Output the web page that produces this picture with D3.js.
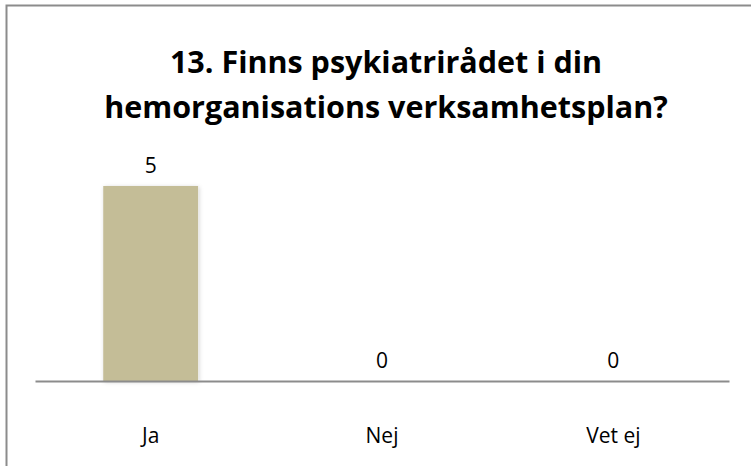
<!DOCTYPE html>
<html>
<head>
<meta charset="utf-8">
<script src="https://cdn.jsdelivr.net/npm/d3@7"></script>
<style>
	body { margin: 0; background: #fff; }
	text { font-family: "Open Sans", "Noto Sans", sans-serif; fill: #000; }
</style>
</head>
<body>
<div id="chart"></div>
<script>
var titleLines = ["13. Finns psykiatrirådet i din", "hemorganisations verksamhetsplan?"];
var categories = ["Ja", "Nej", "Vet ej"];
var values = [5, 0, 0];

var width = 751;
var height = 466;
var plot = { left: 35, right: 729, top: 186, bottom: 381 };

var svg = d3.select("#chart").append("svg")
	.attr("width", width)
	.attr("height", height);

// chart frame (right and bottom edges fall outside the picture)
svg.append("rect")
	.attr("x", 6.5).attr("y", 5.5)
	.attr("width", 760).attr("height", 480)
	.attr("fill", "none")
	.attr("stroke", "#8c8c8c")
	.attr("stroke-width", 2);

var defs = svg.append("defs");
var shadow = defs.append("filter").attr("id", "shadow")
	.attr("x", "-20%").attr("y", "-20%").attr("width", "140%").attr("height", "140%");
shadow.append("feDropShadow")
	.attr("dx", 1).attr("dy", 1).attr("stdDeviation", 2)
	.attr("flood-color", "#000").attr("flood-opacity", 0.18);

var x = d3.scaleBand()
	.domain(categories)
	.range([plot.left, plot.right])
	.paddingInner(0.59)
	.paddingOuter(0.295);

var y = d3.scaleLinear()
	.domain([0, 5])
	.range([plot.bottom, plot.top]);

// title
var title = svg.append("text")
	.attr("text-anchor", "middle")
	.style("font-size", "30.5px")
	.style("font-weight", "bold");
title.selectAll("tspan")
	.data(titleLines)
	.enter().append("tspan")
	.attr("x", 386)
	.attr("y", (d, i) => 73 + i * 45)
	.text(d => d);

// bars
svg.append("g")
	.selectAll("rect")
	.data(values)
	.enter().append("rect")
	.attr("x", (d, i) => x(categories[i]))
	.attr("y", d => y(d))
	.attr("width", x.bandwidth())
	.attr("height", d => y(0) - y(d))
	.attr("fill", "#c4bd97")
	.attr("filter", "url(#shadow)");

// value labels
svg.append("g")
	.selectAll("text")
	.data(values)
	.enter().append("text")
	.attr("x", (d, i) => x(categories[i]) + x.bandwidth() / 2)
	.attr("y", d => y(d) - 13)
	.attr("text-anchor", "middle")
	.style("font-size", "21px")
	.text(d => d);

// category axis
var axis = svg.append("g")
	.attr("transform", "translate(0," + plot.bottom + ")")
	.call(d3.axisBottom(x).tickSize(0).tickPadding(47));
axis.select(".domain")
	.attr("stroke", "#8c8c8c")
	.attr("stroke-width", 2);
axis.selectAll("text")
	.style("font-family", "\"Open Sans\", \"Noto Sans\", sans-serif")
	.style("font-size", "21px")
	.attr("fill", "#000");
</script>
</body>
</html>
